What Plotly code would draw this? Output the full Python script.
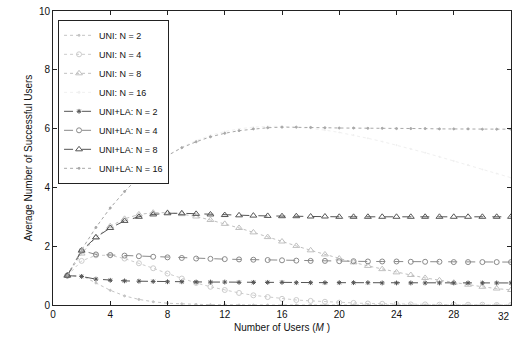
import plotly.graph_objects as go

M = list(range(1, 33))

uni_n2 = [1.00, 1.00, 0.75, 0.50, 0.31, 0.19, 0.11, 0.06, 0.04, 0.02, 0.01, 0.01,
          0.00, 0.00, 0.00, 0.00, 0.00, 0.00, 0.00, 0.00, 0.00, 0.00, 0.00, 0.00,
          0.00, 0.00, 0.00, 0.00, 0.00, 0.00, 0.00, 0.00]
uni_n4 = [1.00, 1.50, 1.69, 1.69, 1.58, 1.42, 1.25, 1.07, 0.90, 0.75, 0.62, 0.51,
          0.41, 0.33, 0.27, 0.21, 0.17, 0.14, 0.11, 0.08, 0.07, 0.05, 0.04, 0.03,
          0.02, 0.02, 0.01, 0.01, 0.01, 0.01, 0.00, 0.00]
uni_n8 = [1.00, 1.75, 2.30, 2.68, 2.93, 3.08, 3.14, 3.14, 3.09, 3.01, 2.89, 2.76,
          2.62, 2.47, 2.31, 2.16, 2.01, 1.86, 1.72, 1.58, 1.45, 1.33, 1.22, 1.11,
          1.02, 0.92, 0.84, 0.76, 0.69, 0.62, 0.56, 0.51]
uni_n16 = [1.00, 1.88, 2.64, 3.30, 3.86, 4.35, 4.75, 5.09, 5.37, 5.59, 5.77, 5.90,
           5.99, 6.05, 6.08, 6.08, 6.05, 6.01, 5.95, 5.87, 5.78, 5.67, 5.56, 5.44,
           5.31, 5.18, 5.04, 4.90, 4.76, 4.61, 4.47, 4.33]
la_n2 = [1.00, 0.97, 0.88, 0.84, 0.82, 0.81, 0.80, 0.79, 0.79, 0.78, 0.78, 0.78,
         0.77, 0.77, 0.77, 0.77, 0.76, 0.76, 0.76, 0.76, 0.76, 0.76, 0.75, 0.75,
         0.75, 0.75, 0.75, 0.75, 0.75, 0.75, 0.75, 0.75]
la_n4 = [1.00, 1.85, 1.72, 1.70, 1.68, 1.66, 1.64, 1.62, 1.60, 1.58, 1.57, 1.56,
         1.55, 1.54, 1.53, 1.52, 1.51, 1.50, 1.50, 1.49, 1.49, 1.48, 1.48, 1.48,
         1.47, 1.47, 1.47, 1.46, 1.46, 1.46, 1.46, 1.46]
la_n8 = [1.00, 1.85, 2.30, 2.62, 2.86, 3.00, 3.08, 3.12, 3.12, 3.10, 3.08, 3.06,
         3.05, 3.04, 3.03, 3.02, 3.02, 3.01, 3.01, 3.00, 3.00, 3.00, 3.00, 3.00,
         3.00, 3.00, 3.00, 3.00, 3.00, 3.00, 3.00, 3.00]
la_n16 = [1.00, 1.88, 2.64, 3.30, 3.86, 4.35, 4.75, 5.08, 5.35, 5.55, 5.72, 5.84,
          5.93, 5.99, 6.03, 6.05, 6.05, 6.04, 6.03, 6.02, 6.02, 6.01, 6.01, 6.00,
          6.00, 6.00, 5.99, 5.99, 5.99, 5.98, 5.98, 5.98]

x_ticks = [0, 4, 8, 12, 16, 20, 24, 28]
x_last_tick = 32
y_ticks = [0, 2, 4, 6, 8, 10]

series = [
    ("UNI: N = 2", uni_n2, "#c4c4c4", "dot", "circle", 2),
    ("UNI: N = 4", uni_n4, "#cccccc", "dot", "circle-open", 5),
    ("UNI: N = 8", uni_n8, "#c0c0c0", "dot", "triangle-up-open", 6),
    ("UNI: N = 16", uni_n16, "#f0f0f0", "dot", "circle", 1),
    ("UNI+LA: N = 2", la_n2, "#555555", "dash", "asterisk-open", 4),
    ("UNI+LA: N = 4", la_n4, "#8a8a8a", "dash", "circle-open", 5),
    ("UNI+LA: N = 8", la_n8, "#555555", "dash", "triangle-up-open", 6),
    ("UNI+LA: N = 16", la_n16, "#a8a8a8", "dot", "circle", 2),
]

fig = go.Figure()
for name, y, color, dash, sym, size in series:
    fig.add_trace(go.Scatter(
        x=M, y=y, name=name, mode="lines+markers",
        line=dict(color=color, width=1, dash=dash),
        marker=dict(symbol=sym, size=size, color=color, line=dict(color=color, width=1)),
    ))

axis_common = dict(
    showline=True, linecolor="#222", linewidth=1, mirror="ticks",
    ticks="inside", ticklen=4, tickcolor="#222", showgrid=False, zeroline=False,
    tickfont=dict(size=10, color="#111"),
)
fig.update_xaxes(range=[0, x_last_tick], tickvals=x_ticks, **axis_common,
                 title=dict(text="Number of Users (<i>M</i> )", font=dict(size=10, color="#111"), standoff=4))
fig.update_yaxes(range=[0, 10], tickvals=y_ticks, **axis_common,
                 title=dict(text="Average Number of Successful Users", font=dict(size=10, color="#111"), standoff=4))

# last x tick label at the right edge, kept inside the page
fig.add_annotation(x=1.0, xref="paper", y=0, yref="paper", yanchor="top", xanchor="right",
                   yshift=-4, xshift=1, text=str(x_last_tick), showarrow=False,
                   font=dict(size=10, color="#111"))

fig.update_layout(
    width=513, height=344,
    margin=dict(l=53, r=2, t=11, b=39),
    paper_bgcolor="white", plot_bgcolor="white",
    font=dict(family="Liberation Sans, Arial, sans-serif", size=10, color="#111"),
    legend=dict(x=0.011, y=0.97, xanchor="left", yanchor="top",
                bordercolor="#222", borderwidth=1, bgcolor="white",
                font=dict(size=9), itemwidth=30, tracegroupgap=0),
    showlegend=True,
)

fig.write_html("out.html", config={"displayModeBar": False},
               post_script="document.body.style.margin='0';document.body.style.overflow='hidden';")
